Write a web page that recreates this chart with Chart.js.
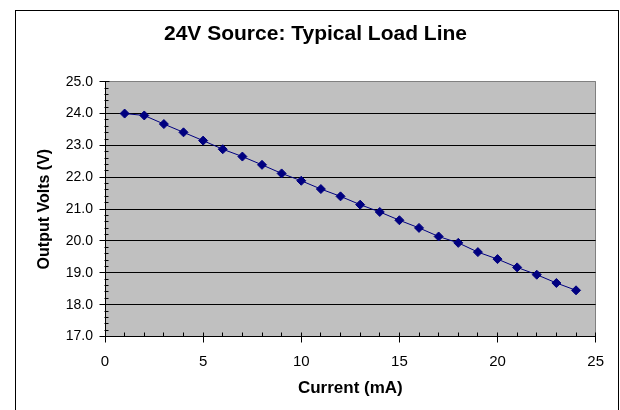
<!DOCTYPE html>
<html><head><meta charset="utf-8">
<script src="https://cdn.jsdelivr.net/npm/chart.js@4.4.0/dist/chart.umd.min.js"></script>
<style>html,body{margin:0;padding:0;background:#fff;}canvas{display:block;}</style>
</head><body>
<canvas id="c" width="620" height="410"></canvas>
<script>
// ---- data ----
const currentMA = [1,2,3,4,5,6,7,8,9,10,11,12,13,14,15,16,17,18,19,20,21,22,23,24];
const outputVolts = [24.00,23.94,23.67,23.41,23.15,22.88,22.65,22.39,22.12,21.89,21.63,21.40,
                     21.14,20.91,20.65,20.41,20.14,19.94,19.65,19.43,19.17,18.94,18.68,18.45];
const xTickValues = [0,5,10,15,20,25];
const yTickValues = [17,18,19,20,21,22,23,24,25];
const chartTitle = '24V Source: Typical Load Line';
const xTitle = 'Current (mA)';
const yTitle = 'Output Volts (V)';

const FONT = '"Liberation Sans", Arial, sans-serif';
Chart.defaults.font.family = FONT;
Chart.defaults.color = '#000';

const points = currentMA.map((x,i)=>({x:x, y:outputVolts[i]}));
const px = v => Math.floor(v)+0.5;

const frame = {
  id:'frame',
  beforeDraw(chart){
    const {ctx, chartArea:a} = chart;
    ctx.save();
    ctx.fillStyle='#fff'; ctx.fillRect(0,0,chart.width,chart.height);
    ctx.strokeStyle='#000'; ctx.lineWidth=1;
    ctx.strokeRect(15.5,10.5,603,430);
    ctx.fillStyle='#c0c0c0';
    ctx.fillRect(a.left,a.top,a.right-a.left,a.bottom-a.top);
    ctx.strokeStyle='#808080';
    ctx.beginPath();
    ctx.moveTo(a.left, px(a.top)); ctx.lineTo(px(a.right), px(a.top)); ctx.lineTo(px(a.right), a.bottom);
    ctx.stroke();
    ctx.restore();
  },
  afterDatasetsDraw(chart){
    const {ctx} = chart;
    const xs = chart.scales.x, ys = chart.scales.y;
    ctx.save();
    ctx.strokeStyle='#000'; ctx.lineWidth=1;
    ctx.beginPath();
    const ax = px(ys.right-1);
    const yMin = yTickValues[0], yMax = yTickValues[yTickValues.length-1];
    const nY = Math.round((yMax-yMin)/0.2);
    for(let i=0;i<=nY;i++){
      const y = px(ys.getPixelForValue(yMin + i*0.2));
      if(i%5===0){ ctx.moveTo(ax-5,y); ctx.lineTo(ax+5,y); }
      else { ctx.moveTo(ax,y); ctx.lineTo(ax+4,y); }
    }
    const ay = px(xs.top);
    const xMax = xTickValues[xTickValues.length-1];
    for(let i=0;i<=xMax;i++){
      const x = px(xs.getPixelForValue(i));
      if(i%5===0){ ctx.moveTo(x,ay-4); ctx.lineTo(x,ay+6); }
      else { ctx.moveTo(x,ay-4); ctx.lineTo(x,ay); }
    }
    ctx.stroke();
    ctx.restore();
  }
};

new Chart(document.getElementById('c'), {
  type:'scatter',
  data:{ datasets:[{
    data: points,
    showLine:true,
    borderColor:'#000080',
    borderWidth:1,
    backgroundColor:'#000080',
    pointStyle:'rectRot',
    pointRadius:4.5,
    pointHoverRadius:4.5,
    pointBorderWidth:1,
    pointBorderColor:'#000080',
    pointBackgroundColor:'#000080'
  }]},
  options:{
    responsive:false,
    animation:false,
    events:[],
    layout:{ padding:{left:34.5, right:23.5, top:0, bottom:0} },
    plugins:{
      legend:{display:false},
      tooltip:{enabled:false},
      title:{ display:true, text:chartTitle, color:'#000',
        font:{family:FONT, size:21, weight:'bold', lineHeight:1.2},
        padding:{top:21.4, bottom:35.1} }
    },
    scales:{
      x:{
        type:'linear', min:xTickValues[0], max:xTickValues[xTickValues.length-1],
        afterBuildTicks(s){ s.ticks = xTickValues.map(v=>({value:v})); },
        afterFit(s){ s.height = 73.5; },
        grid:{ display:false, drawTicks:false },
        border:{ display:true, color:'#000', width:1 },
        ticks:{ font:{size:15}, color:'#000', padding:16, maxRotation:0, autoSkip:false },
        title:{ display:true, text:xTitle, color:'#000', font:{size:17, weight:'bold', lineHeight:1.2}, padding:{top:0,bottom:11} }
      },
      y:{
        type:'linear', min:yTickValues[0], max:yTickValues[yTickValues.length-1],
        afterBuildTicks(s){ s.ticks = yTickValues.map(v=>({value:v})); },
        afterFit(s){ s.width = 70.5; },
        grid:{ display:true, drawTicks:false, lineWidth:1,
          color: c => (c.tick && c.tick.value===yTickValues[yTickValues.length-1]) ? '#808080' : '#000' },
        border:{ display:true, color:'#000', width:1 },
        ticks:{ font:{size:14}, color:'#000', padding:12, autoSkip:false, callback:v=>Number(v).toFixed(1) },
        title:{ display:true, text:yTitle, color:'#000', font:{size:16, weight:'bold', lineHeight:1.2}, padding:{top:0,bottom:0} }
      }
    }
  },
  plugins:[frame]
});
</script>
</body></html>
